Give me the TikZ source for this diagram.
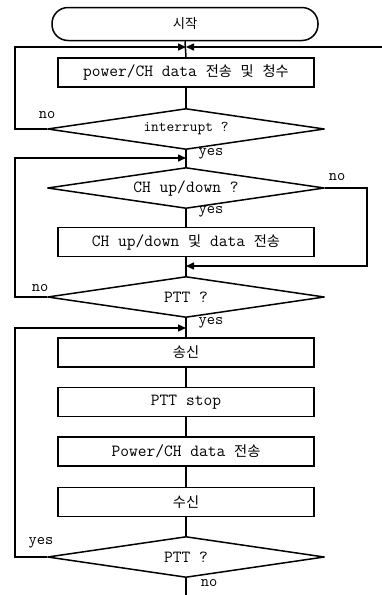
\documentclass[tikz,border=0pt]{standalone}
\usepackage{fontspec}
\newfontfamily\kr[Scale=0.95]{Noto Sans CJK KR}
\usetikzlibrary{shapes.geometric,arrows.meta}
\begin{document}
\begin{tikzpicture}[x=1pt,y=-1pt,
  every node/.style={font=\ttfamily\fontsize{17}{19}\selectfont},
  line/.style={line width=1.5pt},
  arr/.style={line width=1.5pt,-{Triangle[length=8pt,width=7pt]}},
  term/.style={draw,line width=1.5pt,rounded corners=16pt,minimum width=266pt,minimum height=33pt,inner sep=0pt},
  proc/.style={draw,line width=1.5pt,rectangle,minimum width=256pt,minimum height=29pt,inner sep=0pt},
  dec/.style={draw,line width=1.5pt,line join=round,diamond,aspect=6.6,minimum width=277pt,minimum height=41pt,inner sep=0pt},
  lbl/.style={font=\ttfamily\fontsize{16}{18}\selectfont,inner sep=0pt}
]
\useasboundingbox (0,0) rectangle (382,595);
\coordinate (cL) at (15,0);
\coordinate (cR) at (367,0);
\node[term] (start) at (185,24) {{\kr\fontsize{14}{16}\selectfont 시작}};
\coordinate (j1) at (186,47);
\coordinate (r1) at (382,47);
\node[proc] (b1) at (186,72.5) {power/CH data {\kr\fontsize{15}{17}\selectfont 전송} {\kr\fontsize{15}{17}\selectfont 및} {\kr\fontsize{15}{17}\selectfont 청수}};
\node[dec] (d1) at (186,129) {\fontsize{15}{17}\selectfont interrupt ?};
\coordinate (j2) at (186,158);
\node[dec] (d2) at (186,188) {CH up/down ?};
\node[proc] (b2) at (186,242) {CH up/down {\kr\fontsize{15}{17}\selectfont 및} data {\kr\fontsize{15}{17}\selectfont 전송}};
\coordinate (j3) at (186,266);
\node[dec] (d3) at (186,297) {PTT ?};
\coordinate (j4) at (186,328);
\node[proc] (b3) at (186,352.5) {\kr\fontsize{15}{17}\selectfont 송신};
\node[proc] (b4) at (186,402) {PTT stop};
\node[proc] (b5) at (186,451.5) {Power/CH data {\kr\fontsize{15}{17}\selectfont 전송}};
\node[proc] (b6) at (186,502) {\kr\fontsize{15}{17}\selectfont 수신};
\node[dec] (d4) at (186,557) {PTT ?};
\coordinate (end) at (186,595);

% main flow
\draw[line] (start.south) -- (b1.north);
\draw[line] (b1.south) -- (d1.north);
\draw[line] (d1.south) -- (d2.north);
\draw[line] (d2.south) -- (b2.north);
\draw[line] (b2.south) -- (d3.north);
\draw[line] (d3.south) -- (b3.north);
\draw[line] (b3.south) -- (b4.north);
\draw[line] (b4.south) -- (b5.north);
\draw[line] (b5.south) -- (b6.north);
\draw[line] (b6.south) -- (d4.north);
\draw[line] (d4.south) -- (end);

% loops
\draw[arr] (d1.west) -- (d1.west -| cL) |- (j1);
\draw[arr] (r1) -- (j1);
\draw[arr] (d3.west) -- (d3.west -| cL) |- (j2);
\draw[arr] (d2.east) -- (d2.east -| cR) |- (j3);
\draw[arr] (d4.west) -- (d4.west -| cL) |- (j4);

% labels
\node[lbl] (n1) at (47,115) {no};
\node[lbl] (y1) at (211,154) {yes};
\node[lbl] (n2) at (337,177) {no};
\node[lbl] (y2) at (211,212) {yes};
\node[lbl] (n3) at (40,288) {no};
\node[lbl] (y3) at (211,323) {yes};
\node[lbl] (y4) at (41,543) {yes};
\node[lbl] (n4) at (209,583) {no};
\end{tikzpicture}
\end{document}
